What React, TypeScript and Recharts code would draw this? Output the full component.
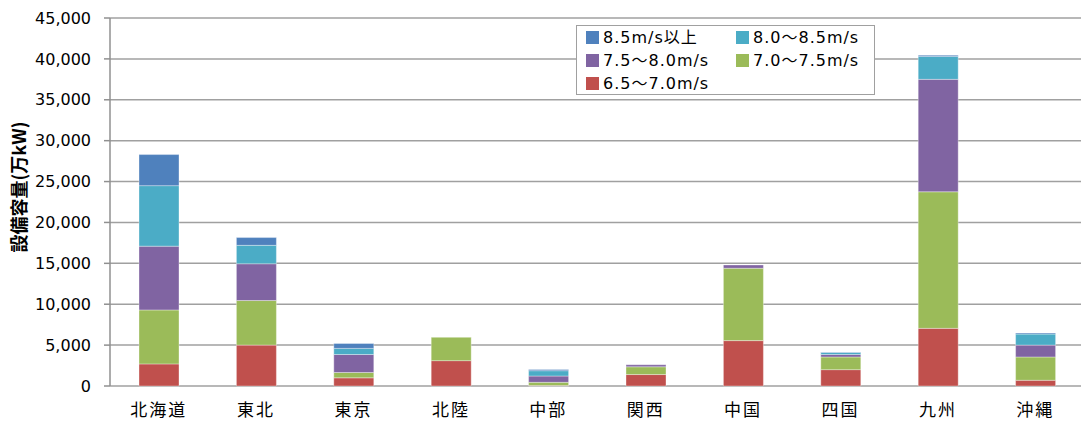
import React from 'react';
import { BarChart, Bar, XAxis, YAxis, CartesianGrid, Legend } from 'recharts';

const regions = ['北海道', '東北', '東京', '北陸', '中部', '関西', '中国', '四国', '九州', '沖縄'];
const s65_70 = [2700, 5000, 1000, 3100, 50, 1400, 5550, 2000, 7050, 700];
const s70_75 = [6600, 5450, 650, 2850, 400, 950, 8850, 1550, 16700, 2850];
const s75_80 = [7800, 4500, 2200, 0, 770, 250, 400, 300, 13750, 1450];
const s80_85 = [7400, 2250, 750, 0, 650, 0, 0, 250, 2800, 1350];
const s85up = [3800, 950, 600, 0, 150, 0, 0, 50, 150, 120];
const yTicks = [0, 5000, 10000, 15000, 20000, 25000, 30000, 35000, 40000, 45000];
const boundaryTicks = [0, 1, 2, 3, 4, 5, 6, 7, 8, 9, 10];

const seriesNames = ['6.5～7.0m/s', '7.0～7.5m/s', '7.5～8.0m/s', '8.0～8.5m/s', '8.5m/s以上'];
const seriesColors = ['#C0504D', '#9BBB59', '#8064A2', '#4BACC6', '#4F81BD'];
const seriesValues = [s65_70, s70_75, s75_80, s80_85, s85up];

const data = regions.map((r, i) => {
  const row: Record<string, string | number> = { region: r };
  seriesNames.forEach((n, k) => {
    row[n] = seriesValues[k][i];
  });
  return row;
});

const FONT = '"DejaVu Sans", "Noto Sans CJK JP", sans-serif';
const CJK = '"Noto Sans CJK JP", "Noto Sans", sans-serif';

const legendOrder = ['8.5m/s以上', '8.0～8.5m/s', '7.5～8.0m/s', '7.0～7.5m/s', '6.5～7.0m/s'];

const renderLegend = (props: any) => {
  const payload = (props.payload || []).slice();
  payload.sort((a: any, b: any) => legendOrder.indexOf(a.value) - legendOrder.indexOf(b.value));
  return (
    <div
      style={{
        border: '1.5px solid #A0A0A0',
        background: '#fff',
        width: 299,
        height: 70,
        boxSizing: 'border-box',
        padding: '0 0 0 9px',
        display: 'grid',
        gridTemplateColumns: '150px 140px',
        gridAutoRows: '23px',
        fontFamily: FONT,
        fontSize: 16,
        lineHeight: '23px',
        letterSpacing: 1,
        color: '#000',
      }}
    >
      {payload.map((p: any) => (
        <div key={p.value} style={{ display: 'flex', alignItems: 'center', whiteSpace: 'nowrap', height: 23 }}>
          <span style={{ display: 'inline-block', width: 13, height: 13, background: p.color, marginRight: 4, flex: 'none' }} />
          <span>{p.value}</span>
        </div>
      ))}
    </div>
  );
};

const YLabel = (props: any) => {
  const vb = props.viewBox || { x: 0, y: 0, width: 0, height: 0 };
  const x = vb.x + 10;
  const y = vb.y + vb.height / 2 - 15;
  return (
    <text
      x={x}
      y={y}
      transform={`rotate(-90, ${x}, ${y})`}
      textAnchor="middle"
      dominantBaseline="central"
      fontFamily={CJK}
      fontWeight="bold"
      fontSize={18}
      fill="#000"
    >
      設備容量(万kW)
    </text>
  );
};

export default function App() {
  return (
    <BarChart
      width={1081}
      height={415}
      data={data}
      margin={{ top: 10, right: 5, left: 0, bottom: 5 }}
    >
      <CartesianGrid vertical={false} stroke="#A0A0A0" strokeWidth={1.5} />
      <XAxis
        xAxisId="b"
        type="number"
        domain={[0, 10]}
        ticks={boundaryTicks}
        allowDataOverflow
        tick={false}
        tickSize={6}
        height={0}
        stroke="#909090"
        strokeWidth={1.5}
      />
      <XAxis
        xAxisId="a"
        dataKey="region"
        axisLine={false}
        tickLine={false}
        tickSize={0}
        tickMargin={18}
        height={32}
        interval={0}
        tick={{ fontSize: 17, fill: '#000', fontFamily: CJK, letterSpacing: 2 }}
      />
      <YAxis
        width={102}
        domain={[0, 45000]}
        ticks={yTicks}
        tickFormatter={(v: number) => v.toLocaleString('en-US')}
        tick={{ fontSize: 16, fill: '#000', fontFamily: FONT }}
        tickSize={6}
        tickMargin={13}
        stroke="#909090"
        strokeWidth={1.5}
        label={<YLabel />}
      />
      <Legend
        layout="horizontal"
        verticalAlign="middle"
        align="center"
        content={renderLegend}
        wrapperStyle={{ position: 'absolute', left: 568, top: 17, width: 300, height: 70 }}
      />
      {seriesNames.map((n, k) => (
        <Bar
          key={n}
          xAxisId="a"
          dataKey={n}
          stackId="s"
          fill={seriesColors[k]}
          stroke="rgba(255,255,255,0.35)"
          strokeWidth={1}
          barSize={40}
          isAnimationActive={false}
        />
      ))}
    </BarChart>
  );
}
